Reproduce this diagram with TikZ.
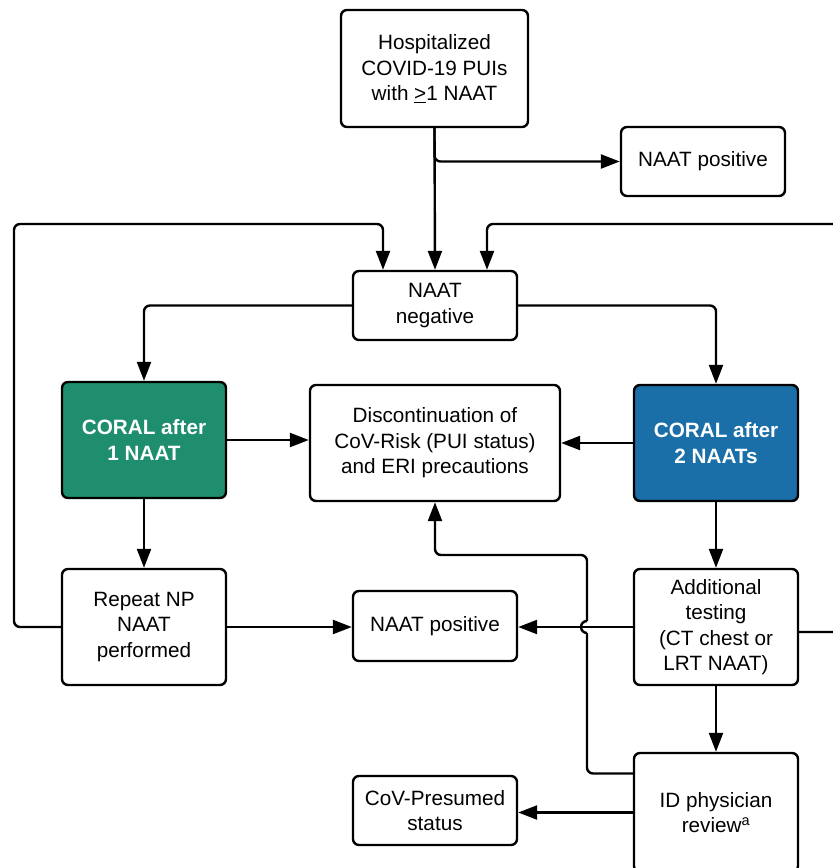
\documentclass[tikz,border=0pt]{standalone}
\usepackage{fontspec}
\setmainfont{Liberation Sans}
\usetikzlibrary{arrows.meta}
\definecolor{coralgreen}{RGB}{31,142,111}
\definecolor{coralblue}{RGB}{26,111,168}
\begin{document}
\begin{tikzpicture}[x=1pt,y=-1pt,
  box/.style={draw=black, line width=2.4pt, rounded corners=6pt, fill=white, align=center,
    inner sep=0pt, font=\fontsize{20.7}{25.5}\selectfont, text=black},
  tall/.style={box, minimum width=164pt, minimum height=116pt},
  short/.style={box, minimum width=164pt, minimum height=69pt},
  greenbox/.style={tall, fill=coralgreen, text=white, font=\fontsize{20.7}{25.5}\selectfont\bfseries},
  bluebox/.style={tall, fill=coralblue, text=white, font=\fontsize{20.7}{25.5}\selectfont\bfseries},
  wire/.style={line width=2.4pt, rounded corners=6pt},
  conn/.style={wire, -{Triangle[length=19pt,width=14pt]}}
]
\useasboundingbox (0,0) rectangle (833,868);
\clip (0,0) rectangle (833,868);

\node[box, minimum width=187pt, minimum height=117pt] (hosp) at (434.5,68.5)
  {Hospitalized\\COVID-19 PUIs\\with \underline{>}1 NAAT};
\node[short] (pos1) at (703,161.5) {NAAT positive};
\node[short] (naatneg) at (435,305.5) {NAAT\\negative};
\node[greenbox] (coral1) at (144,440) {CORAL after\\1 NAAT};
\node[box, minimum width=250pt, minimum height=116pt] (disc) at (435,443)
  {Discontinuation of\\CoV-Risk (PUI status)\\and ERI precautions};
\node[bluebox] (coral2) at (716,443) {CORAL after\\2 NAATs};
\node[tall] (rep) at (144,627) {Repeat NP\\NAAT\\performed};
\node[box, minimum width=164pt, minimum height=70pt] (pos2) at (435,626) {NAAT positive};
\node[tall] (addt) at (716,627) {Additional\\testing\\(CT chest or\\LRT NAAT)};
\node[box, minimum width=164pt, minimum height=119pt] (idr) at (716,812.5)
  {ID physician\\review\textsuperscript{a}};
\node[short] (covp) at (435,810.5) {CoV-Presumed\\status};

\coordinate (hopA) at (587,633);
\coordinate (hopB) at (587,621);

\draw[conn] (hosp.south) -- (naatneg.north);
\draw[conn] (hosp.south) |- (pos1.west);
\draw[conn] (rep.west) -| (14,224) -| ([xshift=-52pt]naatneg.north);
\draw[conn] ([yshift=-5pt]addt.east) -- (850,632) |- (487,224) -- ([xshift=52pt]naatneg.north);
\draw[conn] (naatneg.west) -| (coral1.north);
\draw[conn] (naatneg.east) -| (coral2.north);
\draw[conn] (coral1.east) -- (coral1.east -| disc.west);
\draw[conn] (coral2.west) -- (coral2.west -| disc.east);
\draw[conn] (coral1.south) -- (rep.north);
\draw[conn] (coral2.south) -- (addt.north);
\draw[conn] (rep.east) -- (rep.east -| pos2.west);
\draw[conn] (addt.west) -- (addt.west -| pos2.east);
\draw[conn] (addt.south) -- (idr.north);
\draw[conn] (idr.west) -- (idr.west -| covp.east);
\draw[wire] ([yshift=39pt]idr.west) -| (hopA);
\draw[line width=2.4pt] (hopA) arc[start angle=270,end angle=90,radius=6pt];
\draw[conn] (hopB) -- (587,555) -| (disc.south);
\end{tikzpicture}
\end{document}
